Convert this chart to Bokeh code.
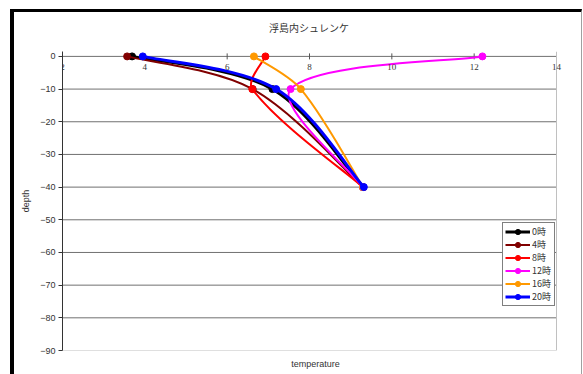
import math
from bokeh.plotting import figure
from bokeh.layouts import column
from bokeh.models import (Range1d, FixedTicker, Span, Legend, LegendItem,
                          ColumnDataSource, LabelSet, Div)
from bokeh.embed import file_html
from bokeh.resources import INLINE

# ---------------- data ----------------
chart_title = "浮島内シュレンケ"
x_label = "temperature"
y_label = "depth"
series_names = ["0時", "4時", "8時", "12時", "16時", "20時"]
depth = [0, -10, -40]
temp_0h = [3.69, 7.10, 9.30]
temp_4h = [3.57, 6.62, 9.30]
temp_8h = [6.93, 6.61, 9.30]
temp_12h = [12.20, 7.54, 9.30]
temp_16h = [6.65, 7.79, 9.30]
temp_20h = [3.95, 7.19, 9.32]
series_temps = [temp_0h, temp_4h, temp_8h, temp_12h, temp_16h, temp_20h]
series_colors = ["#000000", "#800000", "#ff0000", "#ff00ff", "#ff9900", "#0000ff"]
series_widths = [3, 2, 2, 2, 2, 3]
x_ticks = [2, 4, 6, 8, 10, 12, 14]
x_tick_labels = ["2", "4", "6", "8", "10", "12", "14"]
y_ticks = [0, -10, -20, -30, -40, -50, -60, -70, -80, -90]
y_tick_labels = ["0", "−10", "−20", "−30", "−40", "−50", "−60", "−70", "−80", "−90"]

CJK = "Noto Sans CJK JP"
LAT = "Liberation Sans"

# layout geometry (pixels)
SX = 494 / 12.0            # px per degree
PAD_R = 12                 # frame padding right of the 14 line (room for its label)
X0 = x_ticks[0]
X1 = x_ticks[-1] + PAD_R / SX
Y0, Y1 = -90, 1.5
FRAME_H = 299
SY = FRAME_H / (Y1 - Y0)
TITLE_H = 32


def smooth_segments(xs, ys):
    """Excel-like smoothed line: chord-length Catmull-Rom bezier control points."""
    n = len(xs)
    pts = list(zip(xs, ys))

    def dist(a, b):
        return math.hypot((a[0] - b[0]) * SX, (a[1] - b[1]) * SY)

    out_h = [None] * n
    in_h = [None] * n
    for i in range(1, n - 1):
        a, b, c = pts[i - 1], pts[i], pts[i + 1]
        d0, d1 = dist(a, b), dist(b, c)
        tx, ty = c[0] - a[0], c[1] - a[1]
        out_h[i] = (tx * d1 / (d0 + d1) / 3.0, ty * d1 / (d0 + d1) / 3.0)
        in_h[i] = (tx * d0 / (d0 + d1) / 3.0, ty * d0 / (d0 + d1) / 3.0)
    out_h[0] = ((pts[1][0] - pts[0][0]) / 6.0, (pts[1][1] - pts[0][1]) / 6.0)
    in_h[n - 1] = ((pts[n - 1][0] - pts[n - 2][0]) / 6.0, (pts[n - 1][1] - pts[n - 2][1]) / 6.0)
    d = dict(x0=[], y0=[], x1=[], y1=[], cx0=[], cy0=[], cx1=[], cy1=[])
    for i in range(n - 1):
        a, b = pts[i], pts[i + 1]
        d["x0"].append(a[0]); d["y0"].append(a[1])
        d["x1"].append(b[0]); d["y1"].append(b[1])
        d["cx0"].append(a[0] + out_h[i][0]); d["cy0"].append(a[1] + out_h[i][1])
        d["cx1"].append(b[0] - in_h[i + 1][0]); d["cy1"].append(b[1] - in_h[i + 1][1])
    return d


title_div = Div(text=chart_title, width=567, height=TITLE_H, margin=0,
                styles={"font-family": CJK, "font-size": "10px", "color": "#333333",
                        "text-align": "center", "line-height": f"{TITLE_H}px",
                        "text-indent": "23px", "background": "white"})

p = figure(width=567, height=362 - TITLE_H, output_backend="svg", toolbar_location=None,
           x_range=Range1d(X0, X1), y_range=Range1d(Y0, Y1), margin=0,
           min_border_left=48, min_border_right=25 - PAD_R, min_border_top=39 - TITLE_H,
           min_border_bottom=24)
p.background_fill_color = "white"
p.border_fill_color = "white"
p.outline_line_color = None

# x axis: only its label at the bottom
p.xaxis.ticker = FixedTicker(ticks=[])
p.xaxis.axis_label = x_label
p.xaxis.axis_label_text_font = LAT
p.xaxis.axis_label_text_font_size = "9px"
p.xaxis.axis_label_text_font_style = "normal"
p.xaxis.axis_label_text_color = "#333333"
p.xaxis.axis_label_standoff = 8
p.xaxis.axis_line_color = None
p.xaxis.major_tick_line_color = None
p.xaxis.minor_tick_line_color = None

# y axis
p.yaxis.ticker = FixedTicker(ticks=y_ticks)
p.yaxis.major_label_overrides = {t: l for t, l in zip(y_ticks, y_tick_labels)}
p.yaxis.axis_label = y_label
p.yaxis.axis_label_text_font = LAT
p.yaxis.axis_label_text_font_size = "9px"
p.yaxis.axis_label_text_font_style = "normal"
p.yaxis.axis_label_text_color = "#333333"
p.yaxis.axis_label_standoff = 6
p.yaxis.major_label_text_font = LAT
p.yaxis.major_label_text_font_size = "9px"
p.yaxis.major_label_text_color = "#333333"
p.yaxis.major_tick_out = 4
p.yaxis.major_tick_in = 0
p.yaxis.major_label_standoff = 3
p.yaxis.minor_tick_line_color = None
p.yaxis.axis_line_color = "#333333"
p.yaxis.major_tick_line_color = "#333333"

p.xgrid.grid_line_color = None
p.ygrid.grid_line_color = None

# horizontal grid lines spanning the 2..14 axis range
grid_src = ColumnDataSource(dict(
    x0=[x_ticks[0]] * len(y_ticks), x1=[x_ticks[-1]] * len(y_ticks), y=y_ticks,
    color=["#707070"] * (len(y_ticks) - 1) + ["#c0c0c0"]))
p.segment(x0="x0", x1="x1", y0="y", y1="y", line_color="color", line_width=1,
          source=grid_src)
p.add_layout(Span(location=x_ticks[-1], dimension="height", line_color="#c0c0c0", line_width=1))

# x tick marks and labels along the zero line
p.scatter(x=x_ticks, y=[0] * len(x_ticks), marker="dash", angle=math.pi / 2, size=6,
          line_color="#555555")
tick_src = ColumnDataSource(dict(x=x_ticks, y=[0] * len(x_ticks), text=x_tick_labels))
p.add_layout(LabelSet(x="x", y="y", text="text", source=tick_src, y_offset=-8,
                      text_align="center", text_baseline="top", text_font=LAT,
                      text_font_size="9px", text_color="#333333"))

items = []
for name, temps, col, w in zip(series_names, series_temps, series_colors, series_widths):
    src = ColumnDataSource(smooth_segments(temps, depth))
    br = p.bezier(x0="x0", y0="y0", x1="x1", y1="y1", cx0="cx0", cy0="cy0",
                  cx1="cx1", cy1="cy1", source=src, line_color=col, line_width=w)
    sr = p.scatter(x=temps, y=depth, marker="circle", size=7, fill_color=col,
                   line_color=col)
    items.append(LegendItem(label=name, renderers=[br, sr]))

legend = Legend(items=items, location=(440, 44), border_line_color="black",
                border_line_width=1, background_fill_color="white",
                background_fill_alpha=1, glyph_width=25, glyph_height=13,
                label_height=13, label_text_font=CJK, label_text_font_size="9px",
                label_text_color="#333333", padding=2, spacing=0, margin=0,
                label_standoff=2)
p.add_layout(legend)

layout = column(title_div, p, spacing=0,
                styles={"border-top": "3px solid black",
                        "border-left": "4px solid black",
                        "border-right": "1px solid #a0a0a0",
                        "margin-left": "10px", "margin-top": "9px",
                        "background": "white"})

open("out.html", "w").write(file_html(layout, INLINE))
